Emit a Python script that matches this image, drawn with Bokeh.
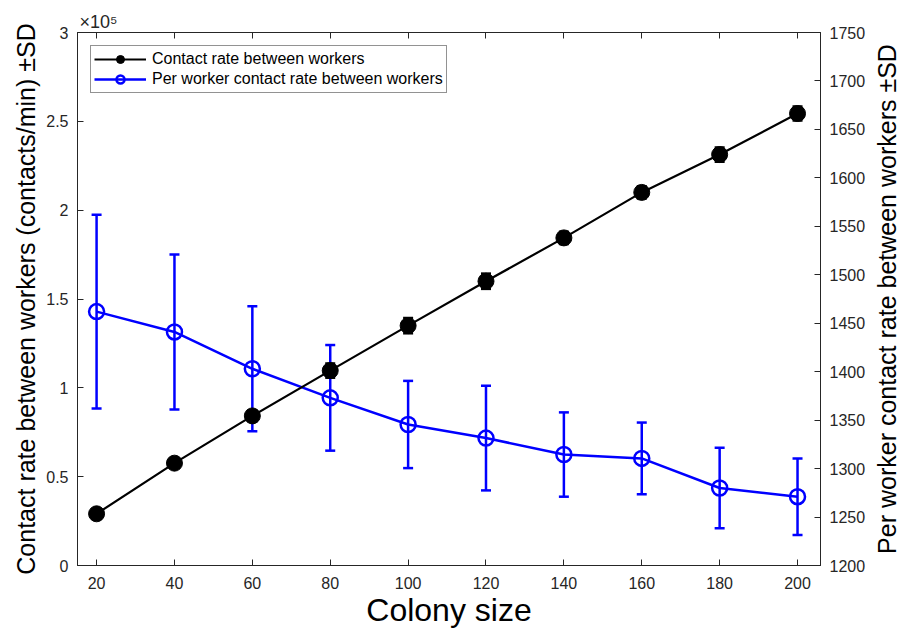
from bokeh.plotting import figure
from bokeh.layouts import row
from bokeh.models import (Range1d, LinearAxis, FixedTicker, CustomJSTickFormatter,
                          Legend, LegendItem, Title)
from bokeh.embed import file_html
from bokeh.resources import INLINE

# ---- data ----
colony_size = [20, 40, 60, 80, 100, 120, 140, 160, 180, 200]
contact_rate = [29100, 57600, 84200, 109700, 135000, 160000, 184400, 210000, 231300, 254400]
contact_sd = [1000, 1500, 3000, 4000, 4300, 4300, 3500, 3500, 4000, 4000]
per_worker_rate = [1462, 1441, 1403, 1373, 1345.5, 1331.5, 1314.5, 1310.5, 1280, 1271]
per_worker_sd = [100, 80, 64.5, 54.5, 45, 54, 43.5, 37, 41.5, 39.5]

x_ticks = [20, 40, 60, 80, 100, 120, 140, 160, 180, 200]
left_ticks = [0, 50000, 100000, 150000, 200000, 250000, 300000]
right_ticks = [1200, 1250, 1300, 1350, 1400, 1450, 1500, 1550, 1600, 1650, 1700, 1750]

FONT = "Liberation Sans"
TXT = "#262626"
BLUE = "#0000FF"

p = figure(width=868, height=630, x_range=Range1d(15.1, 205.9), y_range=Range1d(0, 300000),
           output_backend="svg", toolbar_location=None,
           min_border_left=77, min_border_right=48, min_border_top=32, min_border_bottom=65)
p.extra_y_ranges = {"right": Range1d(1200, 1750)}
p.grid.visible = False
p.outline_line_color = TXT
p.outline_line_width = 1
p.background_fill_color = "white"
p.border_fill_color = "white"

p.title.text = "\u00d710\u2075"
p.title.align = "left"
p.title.offset = 2
p.title.standoff = 2
p.title.text_font = FONT
p.title.text_font_size = "18px"
p.title.text_font_style = "normal"
p.title.text_color = TXT

def style_axis(ax, size_label):
    ax.major_tick_in = 6
    ax.major_tick_out = 0
    ax.minor_tick_line_color = None
    ax.axis_line_color = TXT
    ax.major_tick_line_color = TXT
    ax.major_label_text_font = FONT
    ax.major_label_text_font_size = "16px"
    ax.major_label_text_color = TXT
    ax.axis_label_text_font = FONT
    ax.axis_label_text_font_size = size_label
    ax.axis_label_text_font_style = "normal"
    ax.axis_label_text_color = "#000000"

xa = p.xaxis[0]
style_axis(xa, "32px")
xa.ticker = FixedTicker(ticks=x_ticks)
xa.axis_label = "Colony size"
xa.major_label_standoff = 11
xa.axis_label_standoff = 0

ya = p.yaxis[0]
style_axis(ya, "25px")
ya.ticker = FixedTicker(ticks=left_ticks)
ya.formatter = CustomJSTickFormatter(code="return String(tick/100000);")
ya.axis_label = "Contact rate between workers (contacts/min) \u00b1SD"
ya.major_label_standoff = 9
ya.axis_label_standoff = 3

ra = LinearAxis(y_range_name="right")
style_axis(ra, "25px")
ra.ticker = FixedTicker(ticks=right_ticks)
ra.major_label_standoff = 9
p.add_layout(ra, "right")

ta = LinearAxis()
style_axis(ta, "1px")
ta.ticker = FixedTicker(ticks=x_ticks)
ta.major_label_text_font_size = "1px"
ta.major_label_text_color = None
ta.major_label_standoff = 0
p.add_layout(ta, "above")

# ---- blue series (right axis) ----
pw_lo = [v - s for v, s in zip(per_worker_rate, per_worker_sd)]
pw_hi = [v + s for v, s in zip(per_worker_rate, per_worker_sd)]
p.segment(x0=colony_size, y0=pw_lo, x1=colony_size, y1=pw_hi, y_range_name="right",
          line_color=BLUE, line_width=2.5)
p.scatter(colony_size + colony_size, pw_lo + pw_hi, marker="dash", size=10,
          y_range_name="right", line_color=BLUE, line_width=2.5)
blue_line = p.line(colony_size, per_worker_rate, y_range_name="right", line_color=BLUE, line_width=2.5)
blue_pts = p.scatter(colony_size, per_worker_rate, y_range_name="right", marker="circle", size=15,
                     fill_color=None, line_color=BLUE, line_width=2.5)

# ---- black series (left axis) ----
cr_lo = [v - s for v, s in zip(contact_rate, contact_sd)]
cr_hi = [v + s for v, s in zip(contact_rate, contact_sd)]
p.segment(x0=colony_size, y0=cr_lo, x1=colony_size, y1=cr_hi, line_color="black", line_width=2.5)
p.scatter(colony_size + colony_size, cr_lo + cr_hi, marker="dash", size=10,
          line_color="black", line_width=2.5)
black_line = p.line(colony_size, contact_rate, line_color="black", line_width=2.2)
black_pts = p.scatter(colony_size, contact_rate, marker="circle", size=16,
                      fill_color="black", line_color="black")

legend = Legend(items=[
    LegendItem(label="Contact rate between workers", renderers=[black_line, black_pts]),
    LegendItem(label="Per worker contact rate between workers", renderers=[blue_line, blue_pts]),
], location="top_left")
legend.margin = 13
legend.padding = 3
legend.spacing = 0
legend.label_standoff = 6
legend.glyph_width = 52
legend.glyph_height = 20
legend.label_height = 20
legend.label_text_font = FONT
legend.label_text_font_size = "16px"
legend.label_text_color = "#000000"
legend.border_line_color = TXT
legend.border_line_width = 1
legend.background_fill_color = "white"
legend.background_fill_alpha = 1
p.add_layout(legend)

# ---- right-hand axis title (reads bottom-to-top), in a narrow companion panel ----
p2 = figure(width=38, height=630, output_backend="svg", toolbar_location=None,
            x_axis_location=None, y_axis_location=None,
            min_border_left=32, min_border_right=0, min_border_top=32, min_border_bottom=65)
p2.grid.visible = False
p2.outline_line_color = None
p2.background_fill_color = "white"
p2.border_fill_color = "white"
p2.scatter([0], [0], alpha=0)
p2.add_layout(Title(text="Per worker contact rate between workers \u00b1SD", align="center",
                    text_font=FONT, text_font_size="25px", text_font_style="normal",
                    text_color="#000000", standoff=0, offset=13), "left")

layout = row(p, p2, spacing=0)
open("out.html", "w").write(file_html(layout, INLINE))
